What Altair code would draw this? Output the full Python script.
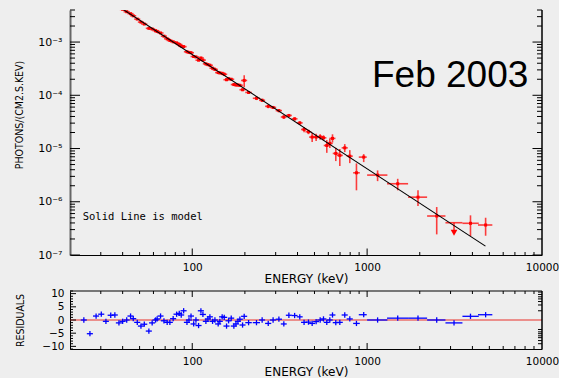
import altair as alt
import pandas as pd

# ---------------- spectrum (energy in keV, flux in photons/cm2/s/keV) ----------------
energy = [24.0, 26.0, 28.2, 30.2, 32.1, 34.2, 36.1, 38.1, 40.0, 42.2,
          44.4, 46.0, 48.5, 50.9, 53.2, 56.5, 59.0, 61.7, 63.0, 65.9,
          68.9, 71.9, 74.5, 77.8, 81.4, 84.3, 86.5, 89.3, 93.3, 95.8,
          98.4, 101.9, 105.0, 108.7, 112.1, 115.1, 119.7, 122.9, 126.2, 130.7,
          134.8, 140.7, 143.8, 148.3, 152.4, 157.1, 161.4, 167.1, 173.0, 177.8,
          182.5, 187.2, 194.0, 198.2, 210, 233, 251, 272, 290, 313,
          334, 357, 385, 412, 436, 462, 485, 511, 539, 563,
          588, 612, 634, 662, 698, 745, 796, 869, 956, 1148,
          1496, 1954, 2500, 3140, 3900, 4760]

energy_minus = [0.96, 1.04, 1.13, 1.21, 1.28, 1.37, 1.44, 1.52, 1.60, 1.69,
                1.78, 1.84, 1.94, 2.04, 2.13, 2.26, 2.36, 2.47, 2.52, 2.64,
                2.76, 2.88, 2.98, 3.11, 3.26, 3.37, 3.46, 3.57, 3.73, 3.83,
                3.94, 4.08, 4.20, 4.35, 4.48, 4.60, 4.79, 4.92, 5.05, 5.23,
                5.39, 5.63, 5.75, 5.93, 6.10, 6.28, 6.46, 6.68, 6.92, 7.11,
                7.30, 7.49, 7.76, 7.93, 9, 11, 10, 11, 12, 13,
                13, 14, 15, 16, 17, 18, 19, 20, 21, 22,
                23, 24, 25, 26, 28, 30, 32, 37, 60, 148,
                196, 239, 297, 335, 392, 455]

energy_plus = [0.96, 1.04, 1.13, 1.21, 1.28, 1.37, 1.44, 1.52, 1.60, 1.69,
               1.78, 1.84, 1.94, 2.04, 2.13, 2.26, 2.36, 2.47, 2.52, 2.64,
               2.76, 2.88, 2.98, 3.11, 3.26, 3.37, 3.46, 3.57, 3.73, 3.83,
               3.94, 4.08, 4.20, 4.35, 4.48, 4.60, 4.79, 4.92, 5.05, 5.23,
               5.39, 5.63, 5.75, 5.93, 6.10, 6.28, 6.46, 6.68, 6.92, 7.11,
               7.30, 7.49, 7.76, 7.93, 9, 11, 10, 11, 12, 13,
               13, 14, 15, 16, 17, 18, 19, 20, 21, 22,
               23, 24, 25, 26, 28, 30, 32, 39, 39, 158,
               219, 249, 305, 368, 449, 440]

flux = [0.01240, 0.00939, 0.00911, 0.00793, 0.00658, 0.00604, 0.00537, 0.00451, 0.00412, 0.00371,
        0.00341, 0.00311, 0.00270, 0.00237, 0.00218, 0.00181, 0.00176, 0.00164, 0.00158, 0.00148,
        0.00129, 0.00115, 0.00107, 0.001012, 0.000964, 0.000902, 0.000840, 0.000820, 0.000657, 0.000639,
        0.000630, 0.000535, 0.000525, 0.000456, 0.000503, 0.000458, 0.000390, 0.000377, 0.000366, 0.000323,
        0.000306, 0.000267, 0.000263, 0.000259, 0.000248, 0.000196, 0.000205, 0.000200, 0.000159, 0.000156,
        0.000156, 0.000154, 0.000127, 0.000190, 0.000113, 8.79e-5, 8.06e-5, 6.20e-5, 5.91e-5, 5.15e-5,
        3.91e-5, 4.18e-5, 3.61e-5, 3.03e-5, 2.28e-5, 2.06e-5, 1.64e-5, 1.64e-5, 1.66e-5, 1.59e-5,
        1.14e-5, 1.25e-5, 1.55e-5, 8.09e-6, 7.43e-6, 1.03e-5, 7.19e-6, 3.50e-6, 6.90e-6, 3.17e-6,
        2.18e-6, 1.22e-6, 5.40e-7, 4.04e-7, 3.94e-7, 3.66e-7]

flux_minus = [2.5e-4, 2.1e-4, 1.8e-4, 1.5e-4, 1.3e-4, 1.2e-4, 1.0e-4, 9.2e-5, 8.3e-5, 7.4e-5,
              6.6e-5, 6.2e-5, 5.5e-5, 5.0e-5, 4.5e-5, 4.0e-5, 3.6e-5, 4.9e-5, 4.7e-5, 4.3e-5,
              3.9e-5, 3.5e-5, 3.3e-5, 3.0e-5, 2.7e-5, 2.5e-5, 2.4e-5, 2.2e-5, 2.0e-5, 1.9e-5,
              1.8e-5, 1.7e-5, 1.6e-5, 1.5e-5, 1.4e-5, 1.3e-5, 1.2e-5, 1.1e-5, 1.1e-5, 9.8e-6,
              9.2e-6, 8.4e-6, 8.0e-6, 7.5e-6, 1.18e-5, 1.11e-5, 1.04e-5, 9.7e-6, 9.0e-6, 8.5e-6,
              8.0e-6, 7.6e-6, 7.0e-6, 4.8e-5, 6.0e-6, 6.6e-6, 5.6e-6, 4.8e-6, 4.1e-6, 3.5e-6,
              3.1e-6, 2.5e-6, 2.6e-6, 2.2e-6, 2.5e-6, 2.0e-6, 3.2e-6, 2.5e-6, 2.0e-6, 1.6e-6,
              3.1e-6, 2.3e-6, 2.5e-6, 2.28e-6, 2.75e-6, 1.75e-6, 1.87e-6, 1.86e-6, 1.34e-6, 7.3e-7,
              5.4e-7, 3.9e-7, 2.96e-7, 1.42e-7, 1.67e-7, 1.36e-7]

flux_plus = [2.5e-4, 2.1e-4, 1.8e-4, 1.5e-4, 1.3e-4, 1.2e-4, 1.0e-4, 9.2e-5, 8.3e-5, 7.4e-5,
             6.6e-5, 6.2e-5, 5.5e-5, 5.0e-5, 4.5e-5, 4.0e-5, 3.6e-5, 4.9e-5, 4.7e-5, 4.3e-5,
             3.9e-5, 3.5e-5, 3.3e-5, 3.0e-5, 2.7e-5, 2.5e-5, 2.4e-5, 2.2e-5, 2.0e-5, 1.9e-5,
             1.8e-5, 1.7e-5, 1.6e-5, 1.5e-5, 1.4e-5, 1.3e-5, 1.2e-5, 1.1e-5, 1.1e-5, 9.8e-6,
             9.2e-6, 8.4e-6, 8.0e-6, 7.5e-6, 1.18e-5, 1.11e-5, 1.04e-5, 9.7e-6, 9.0e-6, 8.5e-6,
             8.0e-6, 7.6e-6, 7.0e-6, 4.8e-5, 6.0e-6, 6.6e-6, 5.6e-6, 4.8e-6, 4.1e-6, 3.5e-6,
             3.1e-6, 2.5e-6, 2.6e-6, 2.2e-6, 2.5e-6, 2.0e-6, 3.1e-6, 2.5e-6, 2.0e-6, 1.8e-6,
             3.0e-6, 2.8e-6, 3.0e-6, 2.21e-6, 2.32e-6, 1.8e-6, 2.14e-6, 1.75e-6, 0.95e-6, 7.1e-7,
             5.2e-7, 4.2e-7, 2.56e-7, 0.0, 1.62e-7, 1.35e-7]

# normalised residuals (data - model) / sigma
residual = [0, -5.2, 1.5, 2.2, -0.5, 1.8, 1.9, -1.1, -0.5, 0,
            1.5, 0.5, -0.9, -2.3, -1.6, -4.2, -1.1, 0, 0.4, 1.5,
            -0.3, -0.9, -0.9, 0.5, 2.2, 2.5, 1.9, 3.5, -0.9, 0,
            1.5, -1.5, 0, -2.1, 3.5, 2.1, -0.5, 0.4, 1.2, -0.5,
            0, -1.5, -0.5, 1.2, 1.0, -2.3, -0.3, 0.7, -2.3, -1.5,
            -0.5, 0.3, -1.9, 1.4, -1.0, -1.0, 0, -1.3, 0, 0.3,
            -1.5, 1.8, 1.7, 1.2, -0.9, -0.8, -1.3, -0.6, 0, 0.4,
            -0.9, 0, 1.9, -1.0, -0.9, 1.9, 0.4, -1.3, 2.0, 0,
            0.7, 0.7, 0, -1.1, 1.4, 2.0]

# the 3140 keV bin is only an upper limit
upper_limit_energy = [3140]

# power-law model (straight line in log-log space)
model_energy = [22.0, 4750.0]
model_flux = [0.0150, 1.47e-7]

# axis ticks
x_major = [100, 1000]
x_minor = [30, 40, 50, 60, 70, 80, 90, 200, 300, 400, 500, 600, 700, 800, 900,
           2000, 3000, 4000, 5000, 6000, 7000, 8000, 9000]
y_major = [1e-7, 1e-6, 1e-5, 1e-4, 1e-3]
y_minor = [k * 10.0 ** d for d in range(-7, -3) for k in range(2, 10)] + [2e-3, 3e-3, 4e-3]
r_major = [-10, -5, 0, 5, 10]
r_minor = [v for v in range(-11, 12) if v % 5 != 0]
r_right = [10.6, 9.7, 8.8, 8.0, 7.0, 5.7, 3.5, -3.6, -4.5, -5.2, -6.0, -6.7, -7.8, -9.0]

# ---------------- layout ----------------
W, H, HR = 472, 245, 58
RED, BLUE = "#ff0000", "#0000ff"
LABEL_FONT = "DejaVu Sans"
TITLE_FONT = "DejaVu Sans Condensed, Liberation Sans, sans-serif"

df = pd.DataFrame({
    "energy": energy, "e_minus": energy_minus, "e_plus": energy_plus,
    "flux": flux, "f_minus": flux_minus, "f_plus": flux_plus, "resid": residual,
})
df["e_lo"] = df.energy - df.e_minus
df["e_hi"] = df.energy + df.e_plus
df["f_lo"] = df.flux - df.f_minus
df["f_hi"] = df.flux + df.f_plus
df["r_lo"] = df.resid - 1
df["r_hi"] = df.resid + 1
df["limit"] = df.energy.isin(upper_limit_energy)
detections = df[~df.limit]
limits = df[df.limit]

xs = alt.Scale(type="log", domain=[20, 10000], nice=False)
ys = alt.Scale(type="log", domain=[1e-7, 4e-3], nice=False)
rs = alt.Scale(domain=[-11, 11], nice=False, zero=False)


def energy_axis(title_y):
    return alt.Axis(values=[100, 1000, 10000], format="d", ticks=False, grid=False,
                    labelPadding=7, labelFlush=False, labelFont=LABEL_FONT, labelFontSize=10.5,
                    labelColor="#000000", domainColor="#000000", domainWidth=1,
                    title="ENERGY (keV)", titleFont=LABEL_FONT, titleFontSize=12,
                    titleFontWeight="normal", titleColor="#000000", titleY=title_y,
                    titleBaseline="top")


spec_x_axis = energy_axis(18)
res_x_axis = energy_axis(17.5)

spec_y_axis = alt.Axis(
    values=y_major, ticks=False, grid=False,
    labelExpr="['10⁻⁷','10⁻⁶','10⁻⁵','10⁻⁴','10⁻³'][round(log(datum.value)/LN10)+7]",
    labelPadding=8, labelFont=LABEL_FONT, labelFontSize=11, labelColor="#000000",
    domainColor="#666666", domainWidth=2,
    title="PHOTONS/(CM2.S.KEV)", titleFont=TITLE_FONT, titleFontSize=10.5,
    titleFontWeight="normal", titleColor="#000000", titleX=-46, titleY=104.5,
)
res_y_axis = alt.Axis(
    values=r_major, ticks=False, grid=False, labelPadding=6, labelFont=LABEL_FONT,
    labelFontSize=10.5, labelColor="#000000", domainColor="#000000", domainWidth=1,
    title="RESIDUALS", titleFont=TITLE_FONT, titleFontSize=10.5, titleFontWeight="normal",
    titleColor="#000000", titleX=-45, titleY=HR / 2,
)


def tick_rules(values, scale, axis, edge, length, height, orient):
    data = pd.DataFrame({"v": values})
    base = alt.Chart(data).mark_rule(color="#000000", strokeWidth=1)
    if orient in ("bottom", "top"):
        y0 = height if orient == "bottom" else 0
        y1 = y0 - length if orient == "bottom" else length
        return base.encode(x=alt.X("v:Q", scale=scale, axis=axis),
                           y=alt.value(y0), y2=alt.value(y1))
    x0 = 0 if orient == "left" else edge
    x1 = length if orient == "left" else edge - length
    return base.encode(y=alt.Y("v:Q", scale=scale, axis=axis),
                       x=alt.value(x0), x2=alt.value(x1))


# ---------------- spectrum panel ----------------
SX = dict(scale=xs, axis=spec_x_axis)
SY = dict(scale=ys, axis=spec_y_axis)

v_err = alt.Chart(df).mark_rule(color=RED, strokeWidth=1.6, opacity=0.75, clip=True).encode(
    x=alt.X("energy:Q", **SX), y=alt.Y("f_lo:Q", **SY), y2="f_hi:Q",
)
h_err = alt.Chart(df).mark_rule(color=RED, strokeWidth=1.6, opacity=0.75, clip=True).encode(
    x=alt.X("e_lo:Q", **SX), x2="e_hi:Q", y=alt.Y("flux:Q", **SY),
)
points = alt.Chart(detections).mark_square(color=RED, size=9, opacity=1, clip=True).encode(
    x=alt.X("energy:Q", **SX), y=alt.Y("flux:Q", **SY),
)
limit_marks = alt.Chart(limits).mark_point(shape="triangle-down", filled=True, color=RED,
                                           size=45, opacity=1).encode(
    x=alt.X("energy:Q", **SX), y=alt.Y("f_lo:Q", **SY),
)
model = alt.Chart(pd.DataFrame({"e": model_energy, "f": model_flux})).mark_line(
    color="#000000", strokeWidth=1.1, clip=True).encode(
    x=alt.X("e:Q", **SX), y=alt.Y("f:Q", **SY),
)
right_edge = alt.Chart(pd.DataFrame({"a": [0]})).mark_rule(color="#000000", strokeWidth=1.5).encode(
    x=alt.value(W), y=alt.value(0), y2=alt.value(H))

note = alt.Chart(pd.DataFrame({"t": ["Solid Line is model"]})).mark_text(
    align="left", baseline="alphabetic", font="DejaVu Sans Mono", fontSize=10.5, color="#000000"
).encode(x=alt.value(12.7), y=alt.value(210.3), text="t:N")

epoch = alt.Chart(pd.DataFrame({"t": ["Feb 2003"]})).mark_text(
    align="left", baseline="alphabetic", font="Liberation Sans", fontSize=37, color="#000000"
).encode(x=alt.value(302), y=alt.value(77), text="t:N")

spectrum = alt.layer(
    v_err, h_err, points, limit_marks, model, right_edge,
    tick_rules(x_major, xs, spec_x_axis, W, 6.5, H, "bottom"),
    tick_rules(x_minor, xs, spec_x_axis, W, 3, H, "bottom"),
    tick_rules(y_major, ys, spec_y_axis, W, 10, H, "left"),
    tick_rules(y_minor, ys, spec_y_axis, W, 5, H, "left"),
    tick_rules(y_major, ys, spec_y_axis, W, 9.5, H, "right"),
    tick_rules(y_minor, ys, spec_y_axis, W, 5, H, "right"),
    note, epoch,
).properties(width=W, height=H)

# ---------------- residual panel ----------------
RX = dict(scale=xs, axis=res_x_axis)
RY = dict(scale=rs, axis=res_y_axis)

zero_line = alt.Chart(pd.DataFrame({"z": [0]})).mark_rule(color="#e8302a", strokeWidth=1).encode(
    y=alt.Y("z:Q", **RY))
r_vbar = alt.Chart(df).mark_rule(color=BLUE, strokeWidth=1.3).encode(
    x=alt.X("energy:Q", **RX), y=alt.Y("r_lo:Q", **RY), y2="r_hi:Q",
)
r_hbar = alt.Chart(df).mark_rule(color=BLUE, strokeWidth=1.3).encode(
    x=alt.X("e_lo:Q", **RX), x2="e_hi:Q", y=alt.Y("resid:Q", **RY),
)
frame_top = alt.Chart(pd.DataFrame({"a": [0]})).mark_rule(color="#000000", strokeWidth=1).encode(
    x=alt.value(0), x2=alt.value(W), y=alt.value(0))
frame_right = alt.Chart(pd.DataFrame({"a": [0]})).mark_rule(color="#000000", strokeWidth=1.5).encode(
    x=alt.value(W), y=alt.value(0), y2=alt.value(HR))

residuals = alt.layer(
    zero_line, r_vbar, r_hbar, frame_top, frame_right,
    tick_rules(x_major, xs, res_x_axis, W, 6, HR, "bottom"),
    tick_rules(x_minor, xs, res_x_axis, W, 3, HR, "bottom"),
    tick_rules(x_major, xs, res_x_axis, W, 6, HR, "top"),
    tick_rules(x_minor, xs, res_x_axis, W, 3, HR, "top"),
    tick_rules(r_major, rs, res_y_axis, W, 6, HR, "left"),
    tick_rules(r_minor, rs, res_y_axis, W, 3, HR, "left"),
    tick_rules(r_right, rs, res_y_axis, W, 4, HR, "right"),
).properties(width=W, height=HR)

chart = alt.vconcat(spectrum, residuals, spacing=36, bounds="flush").properties(
    background="#eeeeee",
    padding={"left": 14, "top": 9, "right": 0, "bottom": 0},
).configure_view(stroke=None)

chart.save("out.html", embed_options={"renderer": "svg", "actions": False})
